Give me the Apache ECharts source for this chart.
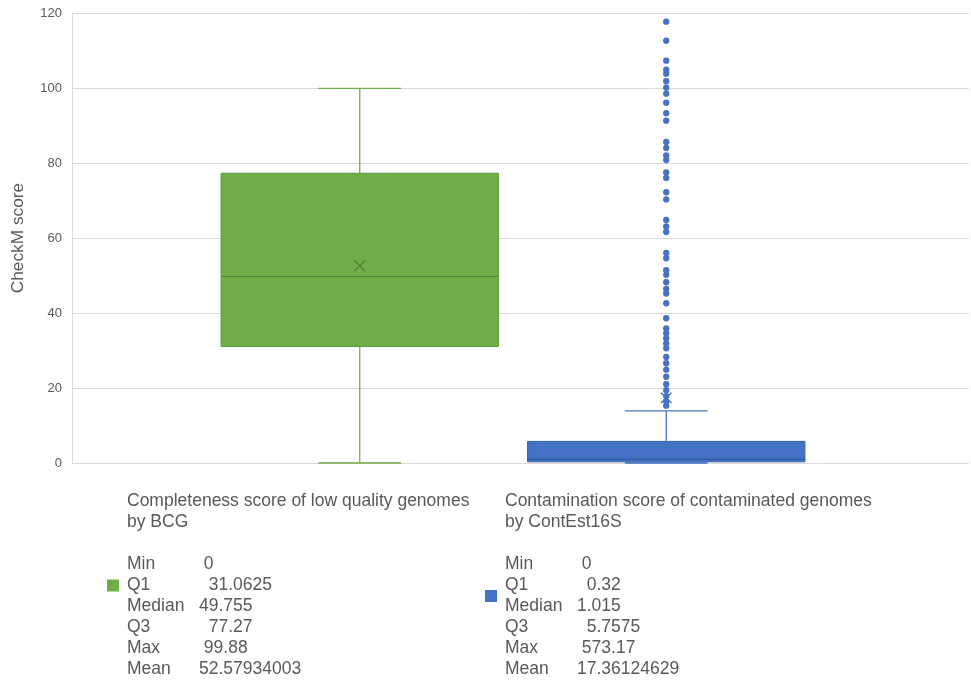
<!DOCTYPE html>
<html>
<head>
<meta charset="utf-8">
<title>CheckM score</title>
<script src="https://cdn.jsdelivr.net/npm/echarts@6/dist/echarts.min.js"></script>
<style>
  html, body { margin: 0; padding: 0; background: #ffffff; }
  #chart { width: 971px; height: 689px; }
</style>
</head>
<body>
<div id="chart"></div>
<script>
// ---- data ----
const seriesNames = [
  'Completeness score of low quality genomes by BCG',
  'Contamination score of contaminated genomes by ContEst16S'
];
const seriesTitleLines = [
  ['Completeness score of low quality genomes', 'by BCG'],
  ['Contamination score of contaminated genomes', 'by ContEst16S']
];
const statLabels = ['Min', 'Q1', 'Median', 'Q3', 'Max', 'Mean'];
const completenessStats = [0, 31.0625, 49.755, 77.27, 99.88, 52.57934003];
const contaminationStats = [0, 0.32, 1.015, 5.7575, 573.17, 17.36124629];
// whisker ends (lower, upper)
const completenessWhiskers = [0, 99.88];
const contaminationWhiskers = [0, 13.9];
// contamination values beyond the upper whisker (those within 0-120)
const contaminationOutliers = [
  117.7, 112.6, 107.3, 104.9, 103.8, 101.8, 100.1, 98.5, 96.1, 93.3, 91.3,
  85.6, 84.0, 82.0, 80.8, 77.5, 76.0, 72.2, 70.3, 64.8, 63.1, 61.6,
  56.0, 54.6, 51.4, 50.2, 48.2, 46.4, 45.2, 42.6, 38.6, 35.9, 34.6, 33.3,
  31.9, 30.6, 28.3, 26.6, 24.9, 23.0, 21.0, 19.4, 17.8, 16.4, 15.3
];
const yTicks = { min: 0, max: 120, interval: 20 };

// ---- styling ----
const FONT = "'Liberation Sans', Arial, sans-serif";
const TEXT_COLOR = '#595959';
const palette = [
  { fill: '#70ad47', border: '#5e9a38', whisker: '#70ad47', mark: '#4f7f31' },
  { fill: '#4472c4', border: '#3560ad', whisker: '#4472c4', mark: '#2f5597' }
];
const BOX_WIDTH = 0.905;   // in x-axis units
const CAP_WIDTH = 0.27;    // in x-axis units
const MEAN_HALF = 5.3;     // px

function boxRow(i, stats, whiskers) {
  // [position, lowWhisker, Q1, Median, Q3, highWhisker, Mean]
  return [i, whiskers[0], stats[1], stats[2], stats[3], whiskers[1], stats[5]];
}

function renderBox(params, api) {
  const x = api.value(0);
  const col = palette[params.seriesIndex];
  const yOf = v => api.coord([x, v])[1];
  const cx = api.coord([x, 0])[0];
  const unit = api.size([1, 0])[0];
  const half = unit * BOX_WIDTH / 2;
  const capHalf = unit * CAP_WIDTH / 2;
  const yLow = yOf(api.value(1)), yQ1 = yOf(api.value(2)), yMed = yOf(api.value(3));
  const yQ3 = yOf(api.value(4)), yHigh = yOf(api.value(5)), yMean = yOf(api.value(6));
  const wStyle = { stroke: col.whisker, lineWidth: 1.3 };
  const line = (x1, y1, x2, y2, style) => ({ type: 'line', shape: { x1, y1, x2, y2 }, style });
  return {
    type: 'group',
    children: [
      line(cx, yLow, cx, yQ1, wStyle),
      line(cx, yQ3, cx, yHigh, wStyle),
      line(cx - capHalf, yLow, cx + capHalf, yLow, wStyle),
      line(cx - capHalf, yHigh, cx + capHalf, yHigh, wStyle),
      {
        type: 'rect',
        shape: { x: cx - half, y: yQ3, width: half * 2, height: yQ1 - yQ3 },
        style: { fill: col.fill, stroke: col.border, lineWidth: 1 }
      },
      line(cx - half, yMed, cx + half, yMed, { stroke: col.mark, lineWidth: 1 }),
      line(cx - MEAN_HALF, yMean - MEAN_HALF, cx + MEAN_HALF, yMean + MEAN_HALF, { stroke: col.mark, lineWidth: 1.2 }),
      line(cx - MEAN_HALF, yMean + MEAN_HALF, cx + MEAN_HALF, yMean - MEAN_HALF, { stroke: col.mark, lineWidth: 1.2 })
    ]
  };
}

const valueIndent = { Min: ' ', Q1: '  ', Median: '', Q3: '  ', Max: ' ', Mean: '' };
function legendText(idx, stats, extraLines) {
  const lines = seriesTitleLines[idx].map(s => '{t|' + s + '}');
  lines.push('{t| }');
  statLabels.forEach((lab, i) => {
    lines.push('{l|' + lab + '}{v|' + valueIndent[lab] + String(stats[i]) + '}');
  });
  for (let k = 0; k < extraLines; k++) lines.push('{t| }');
  return lines.join('\n');
}

const richStyles = {
  t: { fontFamily: FONT, fontSize: 17.5, lineHeight: 21, color: TEXT_COLOR },
  l: { fontFamily: FONT, fontSize: 17.5, lineHeight: 21, color: TEXT_COLOR, width: 72 },
  v: { fontFamily: FONT, fontSize: 17.5, lineHeight: 21, color: TEXT_COLOR }
};

function makeLegend(idx, left, stats, extraLines) {
  return {
    data: [seriesNames[idx]],
    left: left,
    top: 491,
    padding: 0,
    orient: 'vertical',
    icon: 'rect',
    itemWidth: 12,
    itemHeight: 12,
    selectedMode: false,
    formatter: () => legendText(idx, stats, extraLines),
    textStyle: {
      fontFamily: FONT, fontSize: 17.5, lineHeight: 21, color: TEXT_COLOR,
      padding: [0, 0, 0, 3],
      rich: richStyles
    }
  };
}

const chart = echarts.init(document.getElementById('chart'), null, { renderer: 'canvas' });
chart.setOption({
  animation: false,
  backgroundColor: '#ffffff',
  grid: { left: 72, right: 2, top: 13, bottom: 226 },
  xAxis: { type: 'value', min: -0.939, max: 1.988, show: false },
  yAxis: {
    type: 'value',
    min: yTicks.min, max: yTicks.max, interval: yTicks.interval,
    name: 'CheckM score',
    nameLocation: 'middle',
    nameGap: 45,
    nameRotate: 90,
    nameTextStyle: { fontFamily: FONT, fontSize: 17.3, color: TEXT_COLOR },
    axisLine: { show: true, onZero: false, lineStyle: { color: '#d9d9d9', width: 1 } },
    axisTick: { show: false },
    axisLabel: { fontFamily: FONT, fontSize: 13, color: TEXT_COLOR, margin: 10, padding: [2, 0, 0, 0] },
    splitLine: { show: true, lineStyle: { color: '#d9d9d9', width: 1 } }
  },
  legend: [
    makeLegend(0, 107, completenessStats, 0),
    makeLegend(1, 485, contaminationStats, 1)
  ],
  series: [
    {
      name: seriesNames[0],
      type: 'custom',
      itemStyle: { color: palette[0].fill },
      renderItem: renderBox,
      encode: { x: 0, y: [1, 2, 3, 4, 5, 6] },
      data: [boxRow(0, completenessStats, completenessWhiskers)],
      z: 2
    },
    {
      name: seriesNames[1],
      type: 'custom',
      itemStyle: { color: palette[1].fill },
      renderItem: renderBox,
      encode: { x: 0, y: [1, 2, 3, 4, 5, 6] },
      data: [boxRow(1, contaminationStats, contaminationWhiskers)],
      z: 2
    },
    {
      name: 'outliers',
      type: 'scatter',
      symbol: 'circle',
      symbolSize: 6.3,
      itemStyle: { color: palette[1].fill, opacity: 1 },
      data: contaminationOutliers.map(v => [1, v]),
      z: 3
    }
  ]
});
</script>
</body>
</html>
